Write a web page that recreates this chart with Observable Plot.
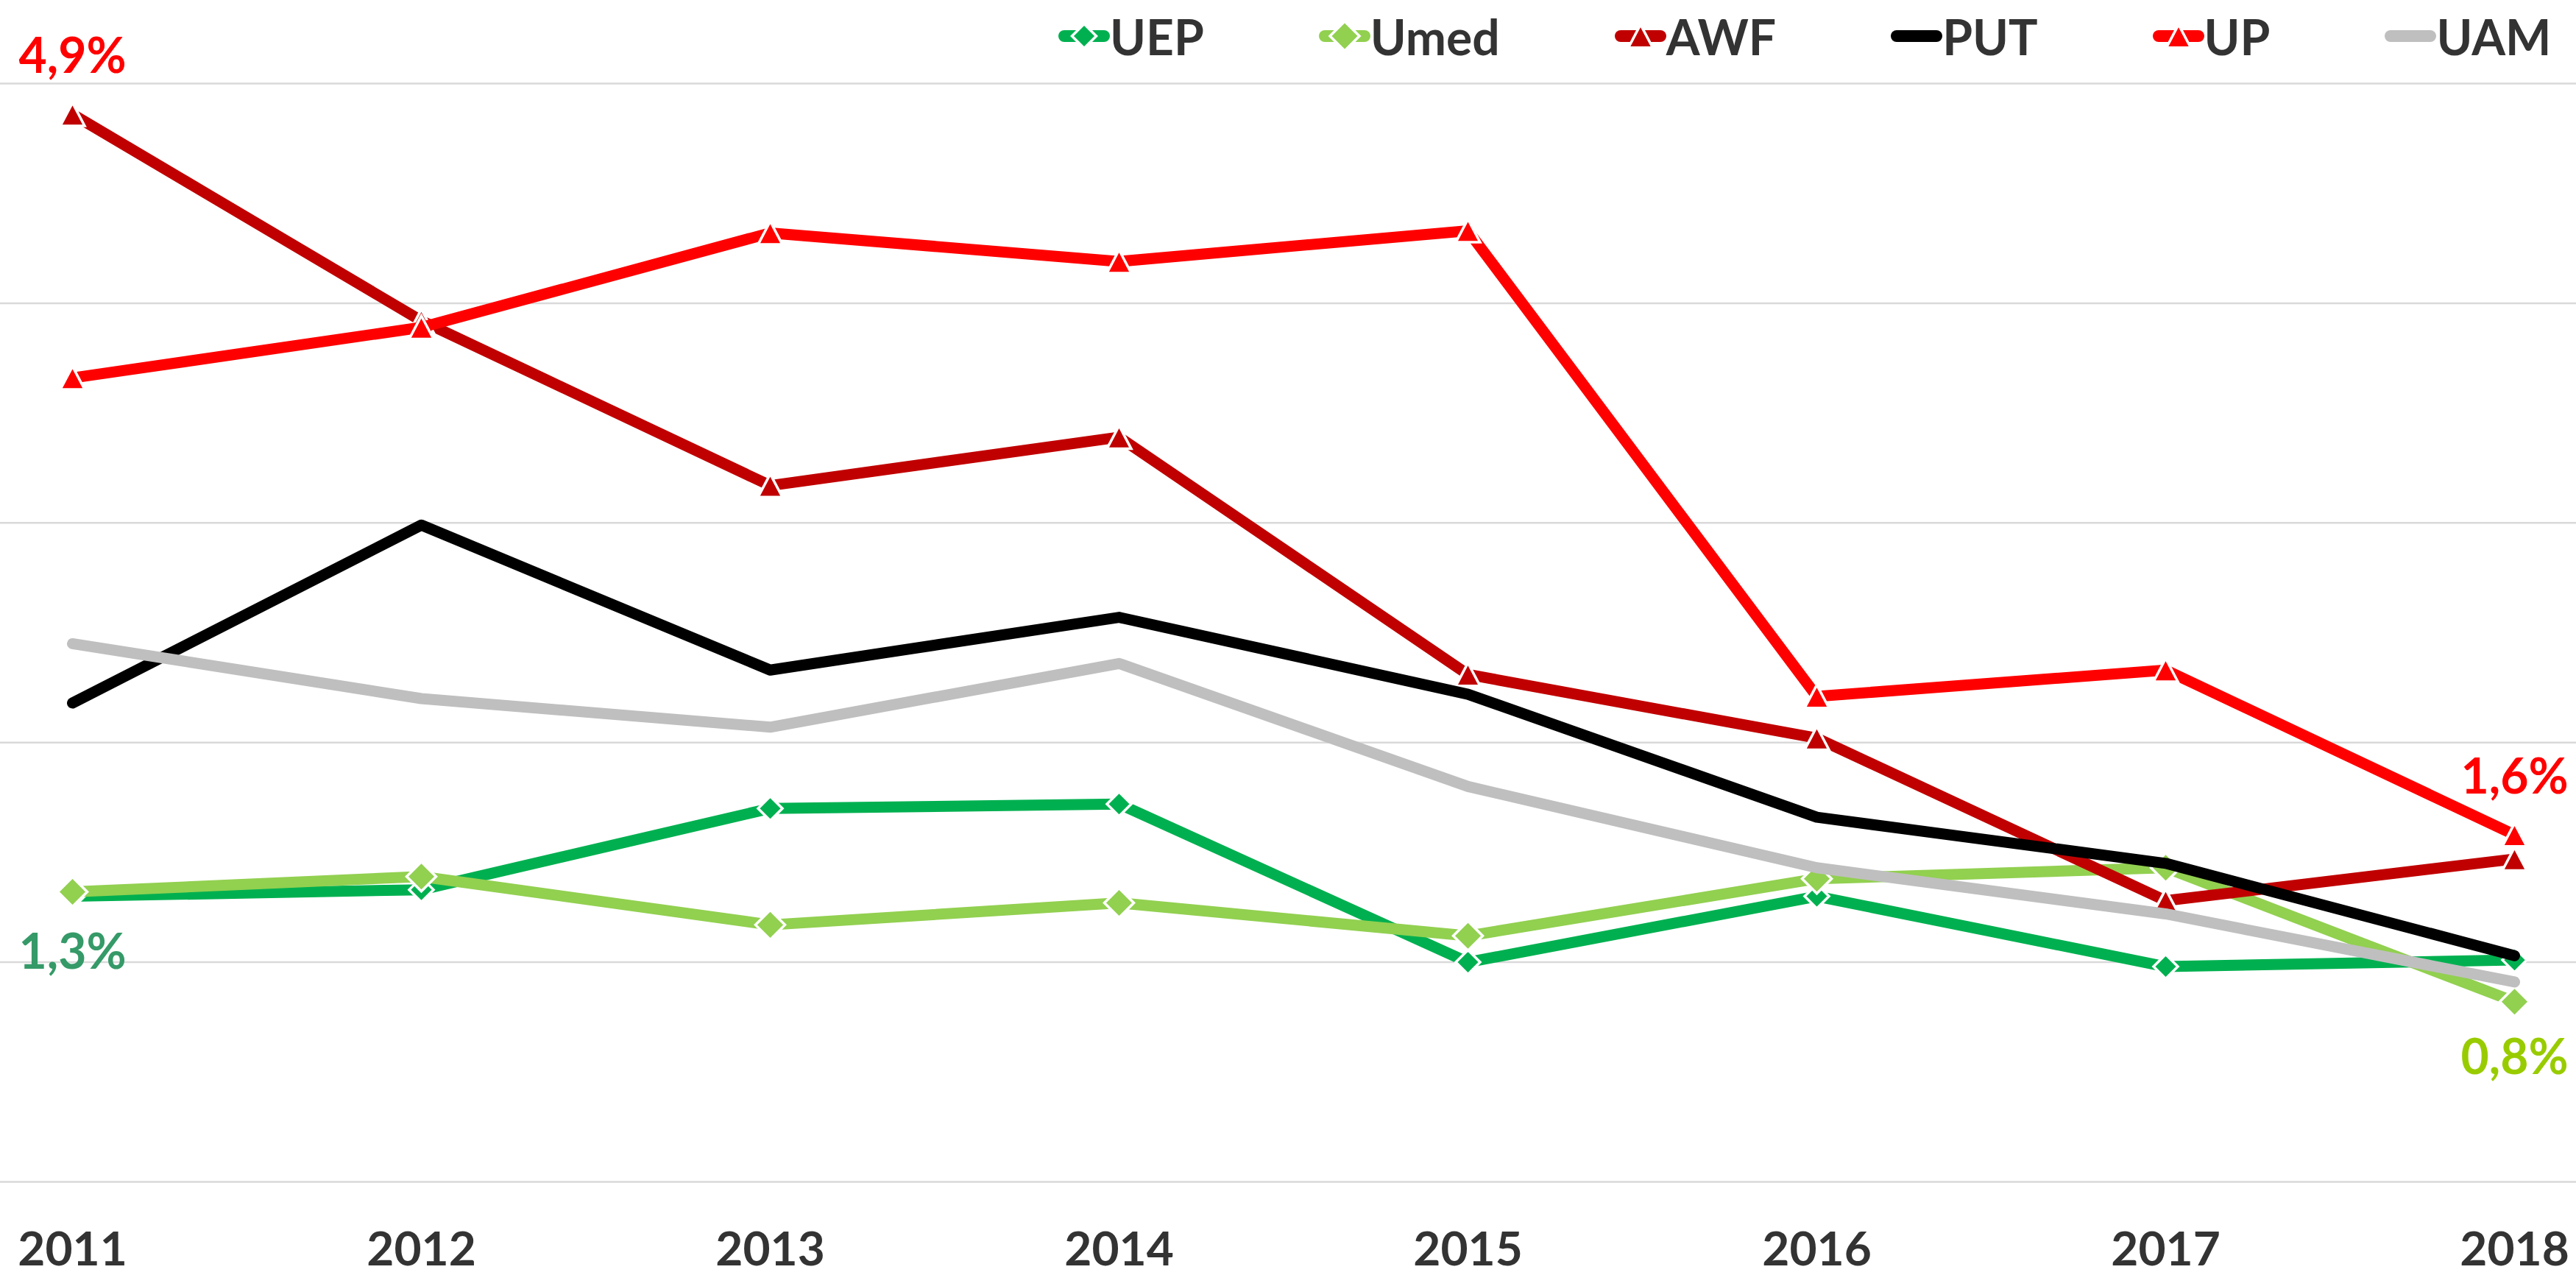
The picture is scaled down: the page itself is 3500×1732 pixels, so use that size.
<!DOCTYPE html>
<html>
<head>
<meta charset="utf-8">
<script src="https://cdn.jsdelivr.net/npm/d3@7"></script>
<script src="https://cdn.jsdelivr.net/npm/@observablehq/plot@0.6"></script>
<style>
  html, body { margin: 0; padding: 0; background: #ffffff; }
  #wrap { position: relative; width: 3500px; height: 1732px; overflow: hidden; font-family: Lato, "Open Sans", sans-serif; }
  #legend { position: absolute; top: 0; left: 1438px; height: 98px; display: flex; align-items: center;
            white-space: nowrap; font-weight: 700; font-size: 66px; color: #333333; }
  #legend .item { display: flex; align-items: center; margin-right: 156px; }
  #legend svg { display: block; }
</style>
</head>
<body>
<div id="wrap">
  <div id="chart"></div>
  <div id="legend"></div>
</div>
<script>
// ---- data ----
const years = [2011, 2012, 2013, 2014, 2015, 2016, 2017, 2018];
const seriesNames = ["UEP", "Umed", "AWF", "PUT", "UP", "UAM"];
const UEP  = [1.30, 1.33, 1.70, 1.72, 1.00, 1.30, 0.98, 1.01];
const Umed = [1.32, 1.39, 1.17, 1.27, 1.12, 1.38, 1.43, 0.82];
const AWF  = [4.86, 3.92, 3.17, 3.39, 2.31, 2.02, 1.28, 1.47];
const PUT  = [2.18, 2.99, 2.33, 2.57, 2.22, 1.66, 1.45, 1.03];
const UP   = [3.66, 3.89, 4.32, 4.19, 4.33, 2.21, 2.33, 1.58];
const UAM  = [2.45, 2.20, 2.07, 2.36, 1.80, 1.43, 1.22, 0.91];
const yTicks = [0, 1, 2, 3, 4, 5];
// data labels: which series / year gets a value label
const labelSeries = ["AWF", "UEP", "UP", "Umed"];
const labelYears  = [2011, 2011, 2018, 2018];

// ---- styles (kept apart from the data) ----
const seriesValues = [UEP, Umed, AWF, PUT, UP, UAM];
const seriesColors = ["#00B050", "#92D050", "#C00000", "#000000", "#FF0000", "#BFBFBF"];
const seriesMarker = ["diamond", "diamond", "triangle", null, "triangle", null];
const seriesMarkerR = [16.5, 20, 16.5, 0, 16.5, 0];
const labelColors = ["#FF0000", "#359A68", "#FF0000", "#99CC00"];
const labelAbove  = [true, false, true, false];

const triangleSym = { draw(ctx, size) { const r = Math.sqrt(size / Math.PI);
  ctx.moveTo(0, -0.95 * r); ctx.lineTo(r, 0.95 * r); ctx.lineTo(-r, 0.95 * r); ctx.closePath(); } };
const diamondSym = { draw(ctx, size) { const r = Math.sqrt(size / Math.PI);
  ctx.moveTo(0, -r); ctx.lineTo(r, 0); ctx.lineTo(0, r); ctx.lineTo(-r, 0); ctx.closePath(); } };
const symbolFor = { triangle: triangleSym, diamond: diamondSym };

// long table built from the arrays
const table = [];
seriesNames.forEach((name, i) => seriesValues[i].forEach((v, j) => table.push({ series: name, year: years[j], value: v })));
const fmt = v => v.toFixed(1).replace(".", ",") + "%";

const marks = [Plot.ruleY(yTicks, { stroke: "#D9D9D9", strokeWidth: 2.5 })];
seriesNames.forEach((name, i) => {
  const d = table.filter(r => r.series === name);
  marks.push(Plot.line(d, { x: "year", y: "value", stroke: seriesColors[i], strokeWidth: 15,
    strokeLinecap: "round", strokeLinejoin: "round" }));
  if (seriesMarker[i]) {
    marks.push(Plot.dot(d, { x: "year", y: "value", symbol: symbolFor[seriesMarker[i]], r: seriesMarkerR[i],
      fill: seriesColors[i], stroke: "#FFFFFF", strokeWidth: 3.5 }));
  }
});
labelSeries.forEach((s, k) => {
  const d = table.filter(r => r.series === s && r.year === labelYears[k]);
  marks.push(Plot.text(d, { x: "year", y: "value", text: r => fmt(r.value), fill: labelColors[k],
    fontSize: 66, fontWeight: "bold", dy: labelAbove[k] ? -77 : 77 }));
});

const chart = Plot.plot({
  width: 3500,
  height: 1732,
  marginTop: 113,
  marginBottom: 127,
  marginLeft: 0,
  marginRight: 0,
  insetLeft: 96,
  insetRight: 82,
  x: { type: "point", domain: years, padding: 0, tickSize: 0, tickPadding: 68, label: null, tickFormat: d => String(d) },
  y: { domain: [0, 5], axis: null },
  style: { fontFamily: "Lato, 'Open Sans', sans-serif", fontSize: "64px", fontWeight: "bold", color: "#333333", background: "#ffffff", overflow: "visible" },
  marks
});
document.getElementById("chart").appendChild(chart);

// ---- legend (line + marker swatches) ----
const legend = d3.select("#legend");
seriesNames.forEach((name, i) => {
  const item = legend.append("div").attr("class", "item");
  const svg = item.append("svg").attr("width", 70).attr("height", 50);
  svg.append("line").attr("x1", 8).attr("x2", 62).attr("y1", 25).attr("y2", 25)
    .attr("stroke", seriesColors[i]).attr("stroke-width", 16).attr("stroke-linecap", "round");
  if (seriesMarker[i]) {
    const sym = d3.symbol().type(symbolFor[seriesMarker[i]]).size(Math.PI * seriesMarkerR[i] * seriesMarkerR[i]);
    svg.append("path").attr("transform", "translate(35,25)").attr("d", sym())
      .attr("fill", seriesColors[i]).attr("stroke", "#FFFFFF").attr("stroke-width", 3.5);
  }
  item.append("span").text(name);
});
</script>
</body>
</html>
